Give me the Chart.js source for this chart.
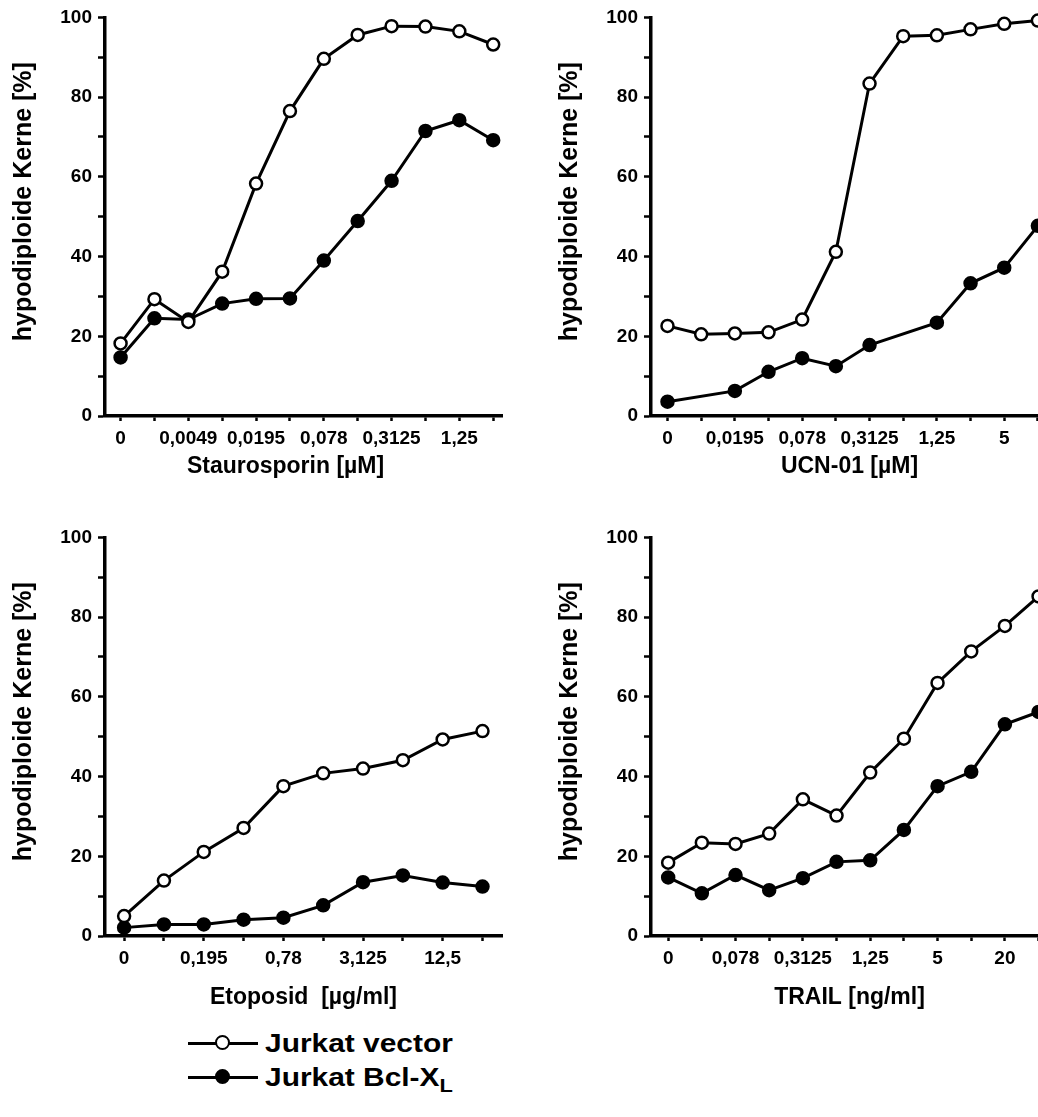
<!DOCTYPE html>
<html><head><meta charset="utf-8">
<script src="https://cdn.jsdelivr.net/npm/chart.js@4.4.1/dist/chart.umd.min.js"></script>
<style>
html,body{margin:0;padding:0;background:#fff;}
#wrap{position:relative;width:1038px;height:1117px;overflow:hidden;background:#fff;}
.pc{position:absolute;}
.ln{position:absolute;left:188px;width:70px;height:3px;background:#000;}
.dot{position:absolute;left:215px;width:11px;height:11px;border:2.5px solid #000;border-radius:50%;}
.txt{position:absolute;left:265px;height:30px;line-height:30px;font:bold 26px "Liberation Sans",Arial,sans-serif;color:#000;transform:scaleX(1.15);transform-origin:left center;white-space:nowrap;}
.txt sub{font-size:19px;vertical-align:-6px;line-height:0;}
</style></head><body>
<div id="wrap">
  <canvas class="pc" id="c1" width="520" height="500" style="left:0;top:0"></canvas>
  <canvas class="pc" id="c2" width="520" height="500" style="left:546px;top:0"></canvas>
  <canvas class="pc" id="c3" width="520" height="500" style="left:0;top:520px"></canvas>
  <canvas class="pc" id="c4" width="520" height="500" style="left:546px;top:520px"></canvas>

  <div class="ln" style="top:1042px"></div>
  <div class="dot" style="top:1035px;background:#fff"></div>
  <div class="txt" style="top:1028px">Jurkat vector</div>
  <div class="ln" style="top:1076px"></div>
  <div class="dot" style="top:1069px;background:#000"></div>
  <div class="txt" style="top:1062px">Jurkat Bcl-X<sub>L</sub></div>
</div>
<script>
// ---- data ----
const yTickLabels = [0, 20, 40, 60, 80, 100];

const stauroTicks = ['0','','0,0049','','0,0195','','0,078','','0,3125','','1,25',''];
const stauroVector = [18.2, 29.3, 23.6, 36.2, 58.3, 76.5, 89.6, 95.6, 97.8, 97.7, 96.5, 93.2];
const stauroBcl    = [14.7, 24.5, 24.2, 28.2, 29.4, 29.5, 39.0, 48.9, 59.0, 71.5, 74.2, 69.2];

const ucnTicks = ['0','','0,0195','','0,078','','0,3125','','1,25','','5',''];
const ucnVector = [22.6, 20.5, 20.7, 21.0, 24.2, 41.2, 83.4, 95.3, 95.5, 97.0, 98.4, 99.2];
const ucnBcl    = [3.6, null, 6.3, 11.1, 14.5, 12.5, 17.8, null, 23.4, 33.3, 37.2, 47.7];

const etoTicks = ['0','','0,195','','0,78','','3,125','','12,5',''];
const etoVector = [5.0, 13.9, 21.1, 27.1, 37.6, 40.8, 42.0, 44.1, 49.3, 51.4];
const etoBcl    = [2.1, 2.9, 2.9, 4.1, 4.6, 7.7, 13.5, 15.2, 13.4, 12.4];

const trailTicks = ['0','','0,078','','0,3125','','1,25','','5','','20',''];
const trailVector = [18.4, 23.4, 23.1, 25.7, 34.3, 30.2, 41.0, 49.5, 63.5, 71.4, 77.8, 85.2];
const trailBcl    = [14.7, 10.7, 15.3, 11.5, 14.5, 18.6, 19.0, 26.6, 37.6, 41.2, 53.1, 56.2];

const seriesNames = ['Jurkat vector', 'Jurkat Bcl-XL'];
const yTitle = 'hypodiploide Kerne [%]';

// ---- drawing ----
Chart.defaults.font.family = '"Liberation Sans", Arial, sans-serif';
Chart.defaults.color = '#000';

// axis titles placed relative to the chart area (offsets only, no data)
const axisTitlePlugin = {
  id: 'axisTitles',
  afterDraw(chart, args, opts) {
    const {ctx, chartArea: a} = chart;
    ctx.save();
    ctx.fillStyle = '#000';
    ctx.textAlign = 'center';
    ctx.textBaseline = 'middle';
    // x title
    ctx.font = 'bold 23px "Liberation Sans", Arial, sans-serif';
    ctx.fillText(opts.xText, (a.left + a.right) / 2 + opts.xShift, a.bottom + opts.xDrop);
    // y title
    ctx.font = 'bold 25px "Liberation Sans", Arial, sans-serif';
    ctx.translate(24, (a.top + a.bottom) / 2 - 15);
    ctx.rotate(-Math.PI / 2);
    ctx.fillText(opts.yText, 0, 0);
    ctx.restore();
  }
};

function toPts(arr) {
  return arr.map((v, i) => (v === null ? null : {x: i, y: v})).filter(p => p !== null);
}

function makePanel(id, ticks, vec, bcl, xmin, xmax, xTitle, xShift, xDrop) {
  const ds = (label, arr, fill) => ({
    label, data: toPts(arr), borderColor: '#000', borderWidth: 3, tension: 0,
    pointRadius: 6, pointBorderWidth: 2.5, pointBorderColor: '#000',
    pointBackgroundColor: fill, clip: false
  });
  new Chart(document.getElementById(id), {
    type: 'line',
    data: { datasets: [ds(seriesNames[0], vec, '#fff'), ds(seriesNames[1], bcl, '#000')] },
    plugins: [axisTitlePlugin],
    options: {
      responsive: false, animation: false, events: [],
      layout: { padding: { top: 17, right: 18, left: 0, bottom: 0 } },
      plugins: {
        legend: { display: false }, tooltip: { enabled: false },
        axisTitles: { xText: xTitle, xShift: xShift, xDrop: xDrop, yText: yTitle }
      },
      scales: {
        x: {
          type: 'linear', min: xmin, max: xmax,
          afterFit: s => { s.height = 84; },
          grid: { display: true, drawOnChartArea: false, drawTicks: true, tickLength: 5, tickWidth: 2.5, tickColor: '#000' },
          border: { display: true, width: 3.5, color: '#000' },
          ticks: {
            stepSize: 1, includeBounds: false, autoSkip: false, maxRotation: 0, maxTicksLimit: 100,
            padding: 6, color: '#000', font: { size: 19, weight: 'bold' },
            callback: v => (Number.isInteger(v) && ticks[v] !== undefined ? ticks[v] : '')
          },
          title: { display: false }
        },
        y: {
          min: 0, max: 100,
          afterFit: s => { s.width = 105; },
          grid: { display: true, drawOnChartArea: false, drawTicks: true, tickLength: 7, tickWidth: 2.5, tickColor: '#000' },
          border: { display: true, width: 3.5, color: '#000' },
          ticks: {
            stepSize: 10, includeBounds: false, padding: 6, color: '#000', font: { size: 19, weight: 'bold' },
            callback: v => (yTickLabels.includes(v) ? String(v) : '')
          },
          title: { display: false }
        }
      }
    }
  });
}

makePanel('c1', stauroTicks, stauroVector, stauroBcl, -0.46, 11.26, 'Staurosporin [µM]', -18, 51);
makePanel('c2', ucnTicks, ucnVector, ucnBcl, -0.49, 11.3, 'UCN-01 [µM]', 0, 51);
makePanel('c3', etoTicks, etoVector, etoBcl, -0.48, 9.49, 'Etoposid  [µg/ml]', 0, 62);
makePanel('c4', trailTicks, trailVector, trailBcl, -0.51, 11.28, 'TRAIL [ng/ml]', 0, 62);
</script>
</body></html>
